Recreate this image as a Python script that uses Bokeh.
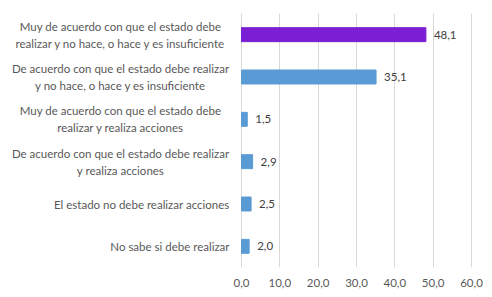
from bokeh.plotting import figure
from bokeh.models import Range1d, FixedTicker, ColumnDataSource
from bokeh.core.properties import value
from bokeh.embed import file_html
from bokeh.resources import INLINE

categories = [
    "Muy de acuerdo con que el estado debe\nrealizar y no hace, o hace y es insuficiente",
    "De acuerdo con que el estado debe realizar\ny no hace, o hace y es insuficiente",
    "Muy de acuerdo con que el estado debe\nrealizar y realiza acciones",
    "De acuerdo con que el estado debe realizar\ny realiza acciones",
    "El estado no debe realizar acciones",
    "No sabe si debe realizar",
]
values = [48.1, 35.1, 1.5, 2.9, 2.5, 2.0]
value_labels = ["48,1", "35,1", "1,5", "2,9", "2,5", "2,0"]
tick_values = [0, 10, 20, 30, 40, 50, 60]
tick_labels = ["0,0", "10,0", "20,0", "30,0", "40,0", "50,0", "60,0"]

W, H = 492, 297
FONT = "Lato"
# pixel geometry of the x scale
x0_px, x60_px = 241, 471
ppu = (x60_px - x0_px) / 60.0
def px2x(px):
    return (px - x0_px) / ppu

n = len(categories)
ypos = [n - 1 - i for i in range(n)]
colors = ["#7A1FD4"] + ["#5B9BD5"] * (n - 1)

p = figure(width=W, height=H, output_backend="svg", toolbar_location=None,
           x_range=Range1d(px2x(0), px2x(W)), y_range=Range1d(-0.5, n - 0.5),
           min_border_left=0, min_border_right=0, min_border_top=13,
           min_border_bottom=30)
p.outline_line_color = None
p.background_fill_color = "white"
p.border_fill_color = "white"

p.yaxis.visible = False
p.ygrid.visible = False

p.xaxis.ticker = FixedTicker(ticks=tick_values)
p.xaxis.major_label_overrides = {t: l for t, l in zip(tick_values, tick_labels)}
p.xaxis.axis_line_color = None
p.xaxis.major_tick_line_color = None
p.xaxis.minor_tick_line_color = None
p.xaxis.major_tick_out = 0
p.xaxis.major_label_standoff = 11
p.xaxis.major_label_text_font = FONT
p.xaxis.major_label_text_font_size = "11.5px"
p.xaxis.major_label_text_color = "#595959"
p.xgrid.ticker = FixedTicker(ticks=tick_values)
p.xgrid.grid_line_color = "#d9d9d9"

src = ColumnDataSource(dict(y=ypos, v=values, c=colors, lab=value_labels))
p.hbar(y="y", left=0, right="v", height=0.33, fill_color="c", line_color="c", source=src)
p.text(x="v", y="y", text="lab", source=src, x_offset=8,
       text_align="left", text_baseline="middle", text_font=value(FONT),
       text_font_size="11.5px", text_color="#404040")

# category labels
cx = []
align = []
for c in categories:
    if "\n" in c:
        cx.append(px2x(120))
        align.append("center")
    else:
        cx.append(px2x(229))
        align.append("right")
csrc = ColumnDataSource(dict(x=cx, y=ypos, t=categories, a=align))
p.text(x="x", y="y", text="t", text_align="a", source=csrc, text_baseline="middle",
       text_font=value(FONT), text_font_size="11.5px", text_color="#595959",
       text_line_height=1.3)

open("out.html", "w").write(file_html(p, INLINE))
